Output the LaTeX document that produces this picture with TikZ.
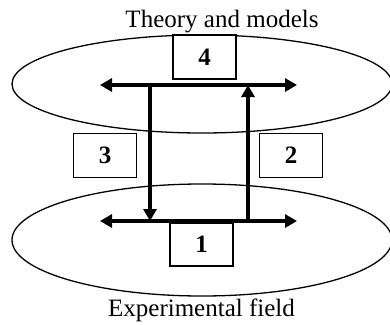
\documentclass[tikz,border=0pt]{standalone}
\usepackage{fontspec}
\setmainfont{Liberation Serif}
\usetikzlibrary{arrows.meta}
\begin{document}
\begin{tikzpicture}[x=1pt,y=-1pt,
  field/.style={draw,line width=1.3pt},
  numbox/.style={draw,fill=white,line width=1.3pt,minimum width=63pt,minimum height=44pt,inner sep=0pt,font=\fontsize{25}{26}\selectfont\bfseries},
  flow/.style={line width=4.2pt,-{Triangle[length=12pt,width=13pt]}},
  both/.style={line width=4.2pt,{Triangle[length=12pt,width=13pt]}-{Triangle[length=12pt,width=13pt]}},
  lbl/.style={font=\fontsize{25}{26}\selectfont,inner sep=0pt}]
\useasboundingbox (0,0) rectangle (390,324);
\draw[field] (202,84) ellipse [x radius=190, y radius=49];
\draw[field] (202,240) ellipse [x radius=190, y radius=56];
\coordinate (tl) at (100,85);
\coordinate (tr) at (297,85);
\coordinate (bl) at (100,221);
\coordinate (br) at (297,221);
\coordinate (lt) at (150,85);
\coordinate (lb) at (150,221);
\coordinate (rt) at (248,85);
\coordinate (rb) at (248,221);
\draw[both] (tl) -- (tr);
\draw[both] (bl) -- (br);
\draw[flow] (lt) -- (lb);
\draw[flow] (rb) -- (rt);
\node[numbox] (n4) at (204.5,57) {4};
\node[numbox] (n3) at (105,155.5) {3};
\node[numbox] (n2) at (291,155.5) {2};
\node[numbox,minimum height=43pt] (n1) at (201.5,244.5) {1};
\node[lbl] (theory) at (222,22) {Theory and models};
\node[lbl] (exp) at (201.5,310) {Experimental field};
\end{tikzpicture}
\end{document}
